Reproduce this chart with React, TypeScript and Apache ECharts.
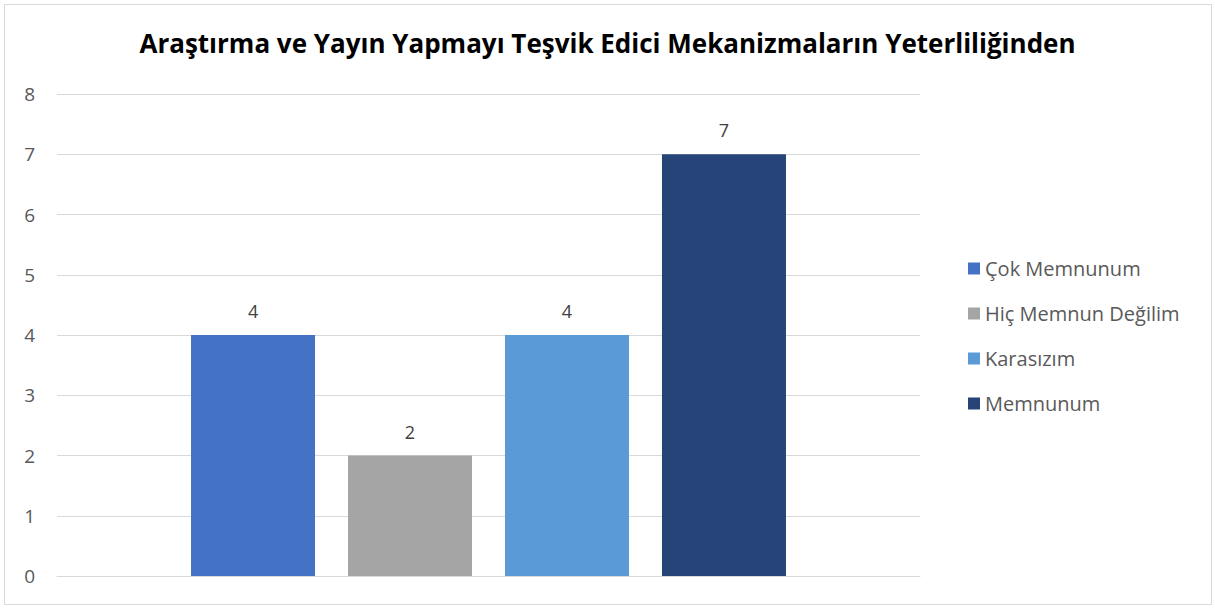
import React, { useEffect, useRef } from "react";
import * as echarts from "echarts";

const titleText = "Araştırma ve Yayın Yapmayı Teşvik Edici Mekanizmaların Yeterliliğinden";
const categories = [""];
const seriesNames = ["Çok Memnunum", "Hiç Memnun Değilim", "Karasızım", "Memnunum"];
const seriesValues = [4, 2, 4, 7];
const seriesColors = ["#4472C4", "#A5A5A5", "#5B9BD5", "#264478"];
const yTicks = { min: 0, max: 8, interval: 1 };

export default function App() {
  const ref = useRef<HTMLDivElement>(null);
  useEffect(() => {
    document.body.style.margin = "0";
    const chart = echarts.init(ref.current!, null, { renderer: "svg" });
    const font = "'Open Sans', 'Noto Sans', sans-serif";
    chart.setOption({
      animation: false,
      backgroundColor: "#ffffff",
      textStyle: { fontFamily: font },
      title: {
        text: titleText,
        left: "center",
        top: 25,
        textStyle: { fontSize: 26, fontWeight: "bold", color: "#000000", fontFamily: font },
      },
      grid: { left: 57, right: 295, top: 94, bottom: 32, containLabel: false },
      legend: {
        orient: "vertical",
        left: 963,
        top: 252,
        itemWidth: 12,
        itemHeight: 12,
        itemGap: 22,
        icon: "rect",
        textStyle: { fontSize: 20, color: "#595959", lineHeight: 23, fontFamily: font },
        data: seriesNames,
      },
      xAxis: {
        type: "category",
        data: categories,
        axisLine: { lineStyle: { color: "#d9d9d9", width: 1 } },
        axisTick: { show: false },
        axisLabel: { show: false },
      },
      yAxis: {
        type: "value",
        min: yTicks.min,
        max: yTicks.max,
        interval: yTicks.interval,
        axisLine: { show: false },
        axisTick: { show: false },
        axisLabel: { fontSize: 19, color: "#595959", margin: 22, fontFamily: font },
        splitLine: { lineStyle: { color: "#d9d9d9", width: 1 } },
      },
      series: seriesNames.map((name, i) => ({
        name,
        type: "bar",
        data: [seriesValues[i]],
        barWidth: 124,
        barGap: "26.6%",
        itemStyle: { color: seriesColors[i] },
        label: {
          show: true,
          position: "top",
          distance: 15,
          fontSize: 18,
          color: "#404040",
          fontFamily: font,
        },
      })),
      graphic: [
        {
          type: "rect",
          shape: { x: 4.5, y: 4.5, width: 1207, height: 600 },
          style: { fill: "none", stroke: "#d9d9d9", lineWidth: 1 },
          silent: true,
        },
      ],
    });
    return () => chart.dispose();
  }, []);
  return (
    <div
      ref={ref}
      style={{ position: "absolute", left: 0, top: 0, width: 1215, height: 608 }}
    />
  );
}
